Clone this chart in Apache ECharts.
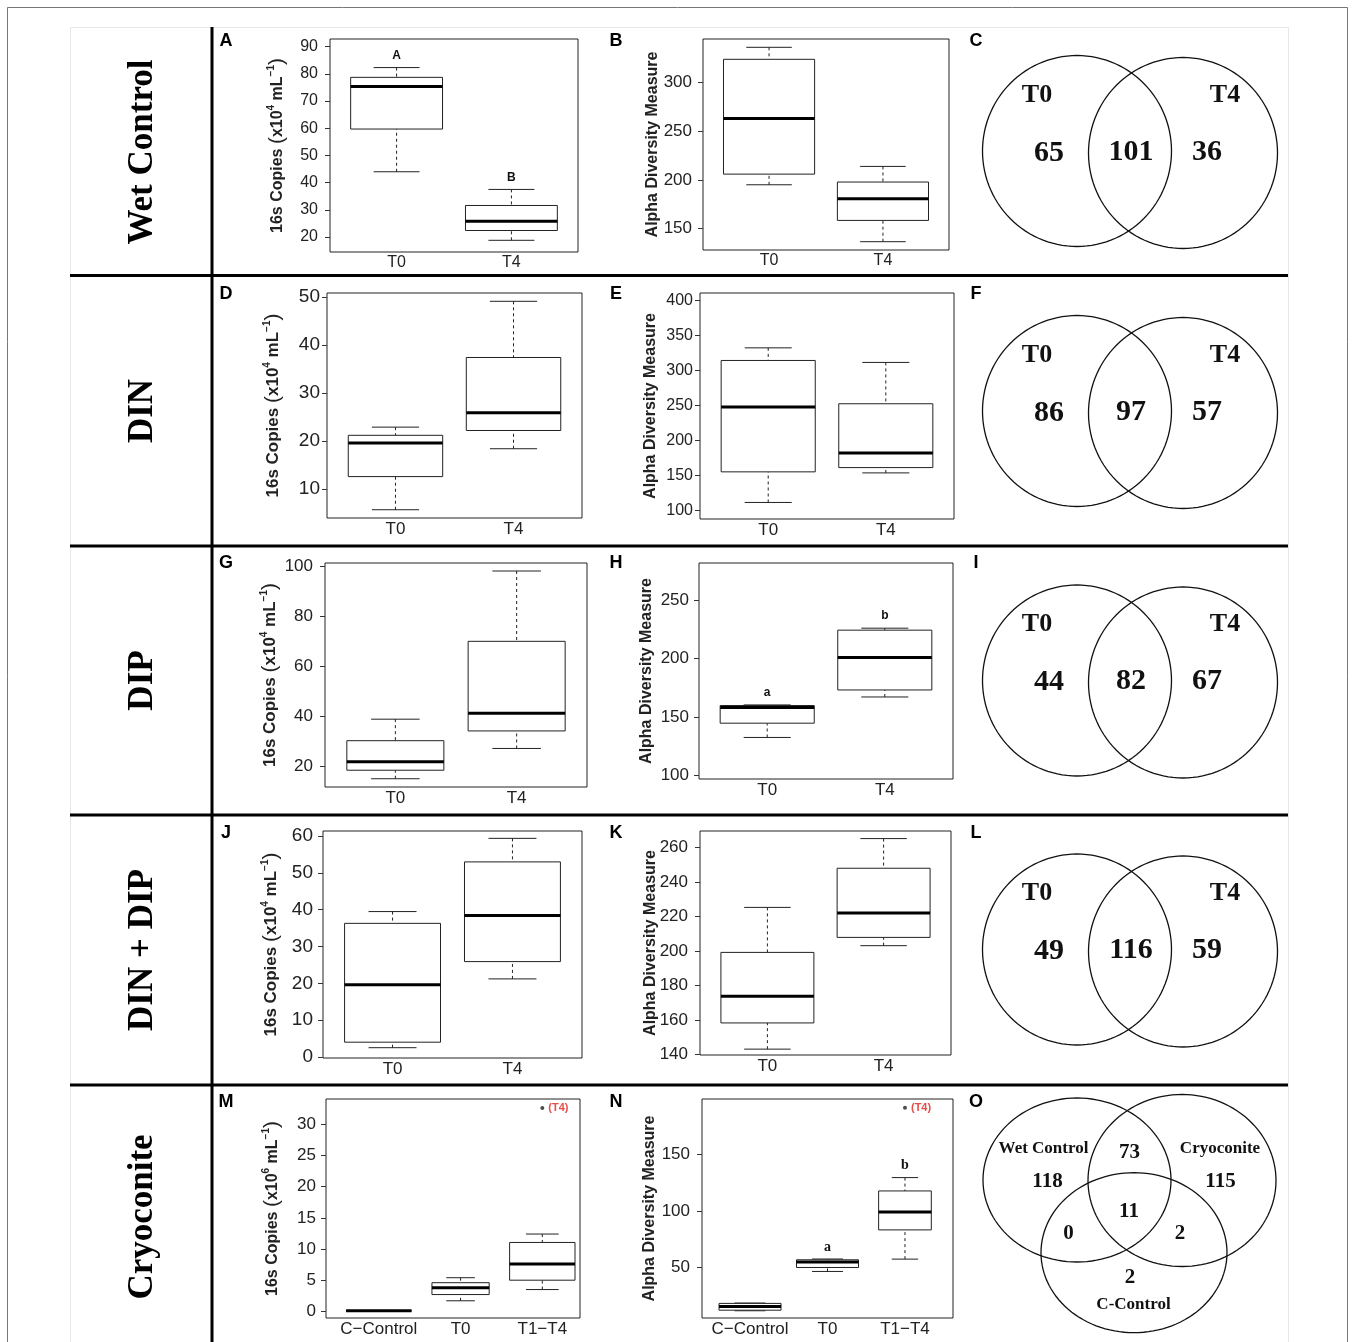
<!DOCTYPE html>
<html><head><meta charset="utf-8">
<script src="https://cdn.jsdelivr.net/npm/echarts@6/dist/echarts.min.js"></script>
<style>html,body{margin:0;padding:0;background:#fff}#c{width:1355px;height:1342px}</style>
</head><body><div id="c"></div>
<script>
// ---------------- DATA ----------------
const rowLabels = ['Wet Control', 'DIN', 'DIP', 'DIN + DIP', 'Cryoconite'];
const panelLetters = ['A','B','C','D','E','F','G','H','I','J','K','L','M','N','O'];
const catsT = ['T0', 'T4'];
const catsCryo = ['C\u2212Control', 'T0', 'T1\u2212T4'];
// box statistics: [low whisker, Q1, median, Q3, high whisker]
const boxA = [[44.0, 59.7, 75.3, 78.7, 82.3], [18.8, 22.4, 25.8, 31.6, 37.5]];
const boxB = [[195.0, 205.9, 262.8, 323.5, 335.8], [136.7, 158.5, 180.7, 197.8, 213.8]];
const boxD = [[5.7, 12.6, 19.6, 21.2, 22.9], [18.4, 22.2, 25.9, 37.4, 49.1]];
const boxE = [[111.4, 155.1, 247.6, 314.1, 332.1], [153.6, 161.2, 182.1, 252.3, 311.3]];
const boxG = [[15.1, 18.5, 21.9, 30.3, 38.9], [27.2, 34.2, 41.3, 70.0, 98.1]];
const boxH = [[132.7, 144.9, 158.2, 160.0, 160.5], [167.3, 173.3, 201.1, 224.4, 226.1]];
const boxJ = [[2.5, 4.0, 19.6, 36.3, 39.5], [21.2, 25.9, 38.4, 53.0, 59.4]];
const boxK = [[143.1, 158.3, 173.8, 199.2, 225.3], [203.1, 207.9, 222.0, 248.0, 265.2]];
const boxM = [[0.05, 0.08, 0.1, 0.12, 0.15], [1.7, 2.7, 3.8, 4.6, 5.4], [3.5, 5.0, 7.6, 11.05, 12.4]];
const boxN = [[11.8, 12.3, 15.6, 18.3, 18.6], [46.5, 50.0, 54.8, 56.8, 57.5], [57.4, 83.2, 99.0, 117.6, 129.4]];
const outlierM = [[3, 32.6]];
const outlierN = [[3, 191.1]];
const outlierLabel = '(T4)';
const sigA = ['A', 'B'];
const sigH = ['a', 'b'];
const sigN = ['', 'a', 'b'];
// tick labels
const ticksA = [20, 30, 40, 50, 60, 70, 80, 90];
const ticksB = [150, 200, 250, 300];
const ticksD = [10, 20, 30, 40, 50];
const ticksE = [100, 150, 200, 250, 300, 350, 400];
const ticksG = [20, 40, 60, 80, 100];
const ticksH = [100, 150, 200, 250];
const ticksJ = [0, 10, 20, 30, 40, 50, 60];
const ticksK = [140, 160, 180, 200, 220, 240, 260];
const ticksM = [0, 5, 10, 15, 20, 25, 30];
const ticksN = [50, 100, 150];
const yNameCopies4 = ['16s Copies ', 'x10', '4', ' mL', '\u22121'];
const yNameCopies6 = ['16s Copies ', 'x10', '6', ' mL', '\u22121'];
const yNameAlpha = 'Alpha Diversity Measure';
// Venn diagrams
const vennSets = ['T0', 'T4'];
const vennC = [65, 101, 36];
const vennF = [86, 97, 57];
const vennI = [44, 82, 67];
const vennL = [49, 116, 59];
const vennOSets = ['Wet Control', 'Cryoconite', 'C-Control'];
// [WetControl only, Cryoconite only, C-Control only, WC&Cryo, WC&C, Cryo&C, all three]
const vennO = [118, 115, 2, 73, 0, 2, 11];

// ---------------- LAYOUT ----------------
const copiesName = (arr) => '{t|' + arr[0] + '}{p|(}{t|' + arr[1] + '}{s|' + arr[2] + '}{t|' + arr[3] + '}{s|' + arr[4] + '}{p|)}';
const panels = [
  {box: boxA, cats: catsT, ticks: ticksA, sig: sigA, grid: [330, 39, 248, 213], y: [14.5, 92.8], x: [0.42, 2.58], name: copiesName(yNameCopies4), rich: true, fs: 16, xfs: 16, margin: 12, gap: 41.5, nfs: 16},
  {box: boxB, cats: catsT, ticks: ticksB, grid: [703, 39, 246, 211], y: [128.2, 344.3], x: [0.42, 2.58], name: yNameAlpha, fs: 17, xfs: 16, margin: 11, gap: 42, nfs: 16},
  {box: boxD, cats: catsT, ticks: ticksD, grid: [327, 293, 255, 225], y: [3.98, 50.83], x: [0.42, 2.58], name: copiesName(yNameCopies4), rich: true, fs: 19, xfs: 17, margin: 7, gap: 42.5, nfs: 17},
  {box: boxE, cats: catsT, ticks: ticksE, grid: [700, 293, 254, 226], y: [87.8, 410.4], x: [0.42, 2.58], name: yNameAlpha, fs: 16, xfs: 17, margin: 7, gap: 41, nfs: 16},
  {box: boxG, cats: catsT, ticks: ticksG, grid: [325, 563, 262, 224], y: [11.8, 101.3], x: [0.42, 2.58], name: copiesName(yNameCopies4), rich: true, fs: 17, xfs: 17, margin: 12, gap: 43.5, nfs: 17},
  {box: boxH, cats: catsT, ticks: ticksH, sig: sigH, grid: [699, 563, 254, 216], y: [97.2, 281.8], x: [0.42, 2.58], name: yNameAlpha, fs: 17, xfs: 17, margin: 10, gap: 44, nfs: 16},
  {box: boxJ, cats: catsT, ticks: ticksJ, grid: [323, 831, 259, 227], y: [-0.3, 61.4], x: [0.42, 2.58], name: copiesName(yNameCopies4), rich: true, fs: 19, xfs: 17, margin: 10, gap: 40.5, nfs: 17},
  {box: boxK, cats: catsT, ticks: ticksK, grid: [700, 831, 251, 224], y: [139.7, 269.6], x: [0.42, 2.58], name: yNameAlpha, fs: 17, xfs: 17, margin: 12, gap: 41, nfs: 16},
  {box: boxM, cats: catsCryo, ticks: ticksM, out: outlierM, grid: [326, 1099, 254, 219], y: [-1.06, 34.05], x: [0.354, 3.461], bw: [0.8, 0.7, 0.8], name: copiesName(yNameCopies6), rich: true, fs: 17, xfs: 17, margin: 10, gap: 42.5, nfs: 16},
  {box: boxN, cats: catsCryo, ticks: ticksN, out: outlierN, sig: sigN, sigSerif: true, grid: [702, 1099, 251, 219], y: [5.4, 198.8], x: [0.38, 3.62], bw: [0.8, 0.8, 0.68], name: yNameAlpha, fs: 17, xfs: 17, margin: 12, gap: 44, nfs: 16}
];

const SANS = '"Liberation Sans", Arial, sans-serif';
const SERIF = '"Liberation Serif", "Times New Roman", serif';

function makeRender(cfg) {
  return function (params, api) {
    const x = api.value(0), lo = api.value(1), q1 = api.value(2), md = api.value(3), q3 = api.value(4), hi = api.value(5);
    const bw = cfg.bw ? cfg.bw[params.dataIndex] : 0.8;
    const hw = bw / 2, cw = hw / 2;
    const tl = api.coord([x - hw, q3]);
    const br = api.coord([x + hw, q1]);
    const mL = api.coord([x - hw, md]), mR = api.coord([x + hw, md]);
    const pHi = api.coord([x, hi]), pLo = api.coord([x, lo]);
    const pQ3 = api.coord([x, q3]), pQ1 = api.coord([x, q1]);
    const cHL = api.coord([x - cw, hi]), cHR = api.coord([x + cw, hi]);
    const cLL = api.coord([x - cw, lo]), cLR = api.coord([x + cw, lo]);
    const stroke = '#222';
    const ch = [
      {type: 'line', shape: {x1: pHi[0], y1: pHi[1], x2: pQ3[0], y2: pQ3[1]}, style: {stroke: stroke, lineWidth: 1, lineDash: [3, 3]}},
      {type: 'line', shape: {x1: pLo[0], y1: pLo[1], x2: pQ1[0], y2: pQ1[1]}, style: {stroke: stroke, lineWidth: 1, lineDash: [3, 3]}},
      {type: 'line', shape: {x1: cHL[0], y1: cHL[1], x2: cHR[0], y2: cHR[1]}, style: {stroke: stroke, lineWidth: 1}},
      {type: 'line', shape: {x1: cLL[0], y1: cLL[1], x2: cLR[0], y2: cLR[1]}, style: {stroke: stroke, lineWidth: 1}},
      {type: 'rect', shape: {x: tl[0], y: tl[1], width: br[0] - tl[0], height: br[1] - tl[1]}, style: {fill: '#fff', stroke: stroke, lineWidth: 1}},
      {type: 'line', shape: {x1: mL[0], y1: mL[1], x2: mR[0], y2: mR[1]}, style: {stroke: '#000', lineWidth: 3}}
    ];
    const s = cfg.sig && cfg.sig[params.dataIndex];
    if (s) {
      ch.push({type: 'text', x: pHi[0], y: pHi[1] - 12,
        style: {text: s, font: cfg.sigSerif ? 'bold 14px ' + SERIF : 'bold 12px ' + SANS, fill: '#111', align: 'center', verticalAlign: 'middle', textAlign: 'center', textVerticalAlign: 'middle'}});
    }
    return {type: 'group', children: ch};
  };
}

const grids = [], xAxes = [], yAxes = [], series = [];
panels.forEach((p, i) => {
  grids.push({left: p.grid[0], top: p.grid[1], width: p.grid[2], height: p.grid[3], show: true,
    borderColor: '#222', borderWidth: 1, backgroundColor: '#fff', containLabel: false, outerBoundsMode: 'none'});
  const catIdx = p.cats.map((c, k) => k + 1);
  xAxes.push({gridIndex: i, type: 'value', min: p.x[0], max: p.x[1], axisLine: {show: false}, splitLine: {show: false},
    axisTick: {show: false, customValues: catIdx},
    axisLabel: {show: true, customValues: catIdx, margin: 3, fontSize: p.xfs, fontFamily: SANS, color: '#222',
      formatter: (v) => p.cats[Math.round(v) - 1] || ''}});
  const nameStyle = p.rich ? {
    rich: {
      t: {fontSize: p.nfs, fontWeight: 'bold', fontFamily: SANS, color: '#222', lineHeight: 22},
      s: {fontSize: 10, fontWeight: 'bold', fontFamily: SANS, color: '#222', lineHeight: 22, verticalAlign: 'top'},
      p: {fontSize: 21, fontWeight: 'normal', fontFamily: SANS, color: '#222', lineHeight: 22}
    }
  } : {fontSize: p.nfs, fontWeight: 'bold', fontFamily: SANS, color: '#222'};
  yAxes.push({gridIndex: i, type: 'value', min: p.y[0], max: p.y[1], axisLine: {show: false}, splitLine: {show: false},
    axisTick: {show: true, length: 5, customValues: p.ticks, lineStyle: {color: '#333'}},
    axisLabel: {show: true, customValues: p.ticks, margin: p.margin, fontSize: p.fs, fontFamily: SANS, color: '#222'},
    name: p.name, nameLocation: 'middle', nameRotate: 90, nameGap: p.gap, nameMoveOverlap: false, nameTextStyle: nameStyle});
  series.push({type: 'custom', xAxisIndex: i, yAxisIndex: i, renderItem: makeRender(p), clip: false,
    encode: {x: 0, y: [1, 2, 3, 4, 5]},
    data: p.box.map((b, k) => [k + 1].concat(b))});
  if (p.out) {
    series.push({type: 'scatter', xAxisIndex: i, yAxisIndex: i, symbol: 'circle', symbolSize: 4,
      itemStyle: {color: '#222'}, data: p.out,
      label: {show: true, position: 'right', distance: 4, formatter: outlierLabel, color: '#e0201c', fontSize: 11, fontWeight: 'bold', fontFamily: SANS}});
  }
});

// ---------------- GRAPHIC (frame, labels, Venn) ----------------
const G = [];
G.push({type: 'rect', shape: {x: 7.5, y: 7.5, width: 1340, height: 1400}, style: {fill: null, stroke: '#777', lineWidth: 1}, silent: true});
G.push({type: 'rect', shape: {x: 70.5, y: 27.5, width: 1218, height: 1400}, style: {fill: null, stroke: '#e6e6e6', lineWidth: 1}, silent: true});
[275.5, 546, 815, 1085].forEach((y) => G.push({type: 'line', shape: {x1: 70, y1: y, x2: 1288, y2: y}, style: {stroke: '#000', lineWidth: 3}}));
G.push({type: 'line', shape: {x1: 212, y1: 27, x2: 212, y2: 1342}, style: {stroke: '#000', lineWidth: 3}});

const rowCy = [152, 411, 680.5, 950, 1217];
rowLabels.forEach((t, i) => G.push({type: 'text', x: 143, y: rowCy[i], rotation: Math.PI / 2,
  style: {text: t, font: 'bold 35px ' + SERIF, fill: '#000', align: 'center', verticalAlign: 'middle', textAlign: 'center', textVerticalAlign: 'middle'}}));

const letterX = [226, 616, 976];
const letterY = [41, 294, 563.5, 833, 1102];
panelLetters.forEach((L, k) => {
  const r = Math.floor(k / 3), c = k % 3;
  G.push({type: 'text', x: letterX[c], y: letterY[r],
    style: {text: L, font: 'bold 18px ' + SANS, fill: '#000', align: 'center', verticalAlign: 'middle', textAlign: 'center', textVerticalAlign: 'middle'}});
});

function vtext(t, x, y, size) {
  return {type: 'text', x: x, y: y, style: {text: String(t), font: 'bold ' + size + 'px ' + SERIF, fill: '#111',
    align: 'center', verticalAlign: 'middle', textAlign: 'center', textVerticalAlign: 'middle'}};
}
function ellipse(cx, cy, rx, ry) {
  const pts = [];
  for (let k = 0; k < 120; k++) { const a = k / 120 * Math.PI * 2; pts.push([cx + rx * Math.cos(a), cy + ry * Math.sin(a)]); }
  return {type: 'polygon', shape: {points: pts}, style: {fill: null, stroke: '#111', lineWidth: 1.3}};
}
const vennRows = [vennC, vennF, vennI, vennL];
const vennCy = [151, 411, 680.5, 949.5];
vennRows.forEach((counts, i) => {
  const cy = vennCy[i];
  G.push(ellipse(1077, cy, 94.5, 95.5));
  G.push(ellipse(1183, cy + 2, 94.5, 95.5));
  G.push(vtext(vennSets[0], 1037, cy - 56, 26));
  G.push(vtext(vennSets[1], 1225, cy - 56, 26));
  G.push(vtext(counts[0], 1049, cy + 2, 30));
  G.push(vtext(counts[1], 1131, cy + 1, 30));
  G.push(vtext(counts[2], 1207, cy + 1, 30));
});
G.push(ellipse(1077, 1180, 94, 82));
G.push(ellipse(1182, 1180.5, 94, 86));
G.push(ellipse(1134, 1252.7, 93, 80));
G.push(vtext(vennOSets[0], 1043.5, 1148.5, 17));
G.push(vtext(vennOSets[1], 1220, 1148.5, 17));
G.push(vtext(vennOSets[2], 1133.5, 1305, 17));
G.push(vtext(vennO[0], 1047.5, 1181.5, 21));
G.push(vtext(vennO[1], 1220.5, 1181.5, 21));
G.push(vtext(vennO[2], 1130, 1277.5, 21));
G.push(vtext(vennO[3], 1129.5, 1153, 21));
G.push(vtext(vennO[4], 1068.5, 1234, 21));
G.push(vtext(vennO[5], 1180, 1234, 21));
G.push(vtext(vennO[6], 1129, 1211.5, 21));

const chart = echarts.init(document.getElementById('c'), null, {renderer: 'canvas'});
chart.setOption({
  backgroundColor: '#fff',
  animation: false,
  textStyle: {fontFamily: SANS},
  grid: grids,
  xAxis: xAxes,
  yAxis: yAxes,
  series: series,
  graphic: {elements: G}
});
</script></body></html>
